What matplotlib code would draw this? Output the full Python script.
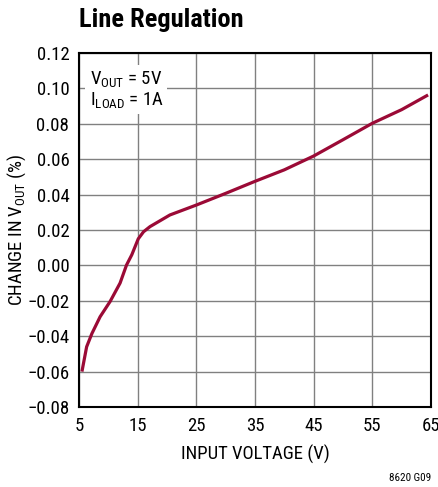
import matplotlib
matplotlib.use("Agg")
import matplotlib.pyplot as plt

# Data
vin = [5.5, 6.3, 7.2, 8.6, 10.3, 12.0, 13.1, 14.0, 15.1, 16.0, 17.1, 20.5, 25, 30, 35, 40, 45, 50, 55, 60, 64.5]
dvout = [-0.060, -0.046, -0.0385, -0.029, -0.0204, -0.010, 0.0002, 0.006, 0.0150, 0.0190, 0.0219,
         0.0285, 0.0341, 0.0407, 0.0475, 0.054, 0.0618, 0.071, 0.0803, 0.088, 0.0963]
xticks = [5, 15, 25, 35, 45, 55, 65]
yticks = [-0.08, -0.06, -0.04, -0.02, 0.00, 0.02, 0.04, 0.06, 0.08, 0.10, 0.12]
ytick_labels = ["\u22120.08", "\u22120.06", "\u22120.04", "\u22120.02", "0.00", "0.02", "0.04", "0.06", "0.08", "0.10", "0.12"]

FONT = "Roboto Condensed"
plt.rcParams["font.family"] = [FONT, "DejaVu Sans"]
plt.rcParams["mathtext.fontset"] = "custom"
plt.rcParams["mathtext.rm"] = FONT
plt.rcParams["mathtext.it"] = FONT
plt.rcParams["mathtext.bf"] = FONT + ":bold"

fig = plt.figure(figsize=(4.39, 4.87), dpi=100)
ax = fig.add_axes([79/439, 80/487, 352/439, 354/487])

ax.plot(vin, dvout, color="#9b0a36", lw=2.3, solid_capstyle="butt", zorder=3)

ax.set_xlim(5, 65)
ax.set_ylim(-0.08, 0.12)
ax.set_xticks(xticks)
ax.set_yticks(yticks)
ax.set_yticklabels(ytick_labels)
ax.grid(True, color="#808080", lw=1.0)
ax.tick_params(length=0, labelsize=13.5, pad=7)
for s in ax.spines.values():
    s.set_color("black")
    s.set_linewidth(1.5)
    s.set_zorder(4)

ax.set_xlabel("INPUT VOLTAGE (V)", fontsize=13.5, labelpad=7)
ax.set_ylabel(r"CHANGE IN V$_{\mathregular{OUT}}$ (%)", fontsize=13.5, va="center")
ax.yaxis.set_label_coords((17 - 79) / 352, 0.5)

fig.text(79/439, 1 - 20/487, "Line Regulation", fontsize=19, fontweight="bold", va="center", ha="left")

ax.text(0.03, 0.955, "V$_{\\mathregular{OUT}}$ = 5V\nI$_{\\mathregular{LOAD}}$ = 1A", transform=ax.transAxes,
        fontsize=13.5, va="top", ha="left", linespacing=1.05,
        bbox=dict(facecolor="white", edgecolor="none", pad=3), zorder=5)

fig.text(431/439, 1 - 478/487, "8620 G09", fontsize=8, ha="right", va="center")

fig.savefig("out.png", dpi=100)
